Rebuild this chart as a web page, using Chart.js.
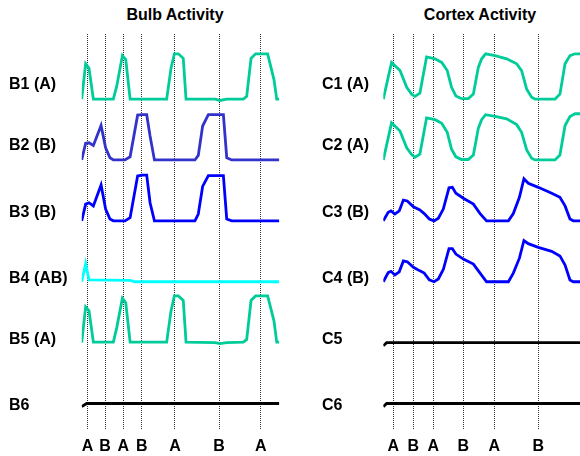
<!DOCTYPE html>
<html>
<head>
<meta charset="utf-8">
<script src="https://cdn.jsdelivr.net/npm/chart.js@4.4.0/dist/chart.umd.min.js"></script>
<style>
  body { margin: 0; background: #fff; }
  #wrap { position: relative; width: 580px; height: 456px; overflow: hidden; }
  canvas { position: absolute; top: 0; }
  #bulb { left: 0; }
  #cortex { left: 290px; }
  .title { position: absolute; top: 6px; width: 200px; text-align: center; line-height: 20px;
           font: bold 16px "Liberation Sans", Arial, sans-serif; color: #000; }
</style>
</head>
<body>
<div id="wrap">
  <div class="title" style="left: 75px;">Bulb Activity</div>
  <div class="title" style="left: 380px;">Cortex Activity</div>
  <canvas id="bulb" width="290" height="456"></canvas>
  <canvas id="cortex" width="290" height="456"></canvas>
</div>
<script>
// stimulus times (0-100) and their odor labels
var bulbEvents = [3.0, 11.8, 21.1, 30.4, 47.2, 69.5, 90.6];
var bulbEventLabels = ['A', 'B', 'A', 'B', 'A', 'B', 'A'];
var cortexEvents = [5.1, 15.3, 25.4, 40.7, 56.4, 78.8];
var cortexEventLabels = ['A', 'B', 'A', 'B', 'A', 'B'];

var bulbNames = ['B1 (A)', 'B2 (B)', 'B3 (B)', 'B4 (AB)', 'B5 (A)', 'B6'];
var cortexNames = ['C1 (A)', 'C2 (A)', 'C3 (B)', 'C4 (B)', 'C5', 'C6'];

// [time, activity] pairs, activity 0..1
var b1 = [[0,0],[2.0,0.78],[3.7,0.68],[5.9,0],[16.0,0],[17.7,0.28],[20.6,0.96],[22.3,0.87],[24.5,0],
          [43.0,0],[45.2,0.68],[46.9,1.0],[48.9,1.0],[51.4,0.9],[52.8,0],[67.5,0],[70.0,-0.03],[73.4,0],
          [81.8,0],[83.5,0.06],[85.7,0.9],[88.0,1.0],[94.1,1.0],[97.3,0.43],[98.7,0],[100,0]];
var b2 = [[0,0],[2.0,0.37],[3.7,0.38],[5.9,0.32],[9.8,0.76],[12.1,0.27],[14.3,0.05],[16.0,0],[21.9,0],
          [24.5,0.07],[28.3,0.99],[30.4,1.0],[32.9,1.0],[34.6,0.53],[36.8,0],[57.3,0],[59.0,0.1],
          [61.2,0.75],[64.1,1.0],[71.7,1.0],[73.4,0.05],[75.9,0],[100,0]];
var b3 = [[0,0],[2.0,0.37],[3.7,0.4],[5.9,0.33],[9.8,0.79],[12.1,0.26],[14.3,0.04],[16.0,0],[21.9,0],
          [24.5,0.07],[28.3,0.99],[30.4,1.01],[32.9,1.01],[34.6,0.4],[36.8,0],[57.3,0],[59.0,0.15],
          [61.2,0.76],[64.1,1.0],[71.7,1.0],[73.4,0.04],[75.9,0],[100,0]];
var b4 = [[0,0],[2.0,0.4],[3.7,0.04],[24.5,0.03],[27.0,0],[100,0]];
var b5 = [[0,0],[2.0,0.79],[3.7,0.7],[5.9,0.01],[16.0,0.01],[17.7,0.32],[20.6,0.98],[22.3,0.88],[24.5,0.01],
          [43.0,0.01],[45.2,0.7],[46.9,1.03],[48.9,1.03],[51.4,0.93],[52.8,0.01],[67.5,0],[70.0,-0.02],[73.4,0],
          [81.8,0.01],[83.5,0.07],[85.7,0.93],[88.0,1.03],[94.1,1.03],[97.3,0.48],[98.7,0.01],[100,0.01]];
var b6 = [[0,-0.07],[2.5,0],[100,0]];

var c1 = [[0,0],[4.2,0.81],[8.5,0.63],[11.9,0.26],[14.4,0.11],[16.1,0.06],[18.6,0.13],[22.0,0.93],
          [26.3,0.89],[29.7,0.81],[32.5,0.63],[34.7,0.26],[36.9,0.07],[39.8,0.01],[43.2,0.01],[45.8,0.11],
          [48.3,0.7],[50.0,0.89],[52.0,1.0],[56.8,0.96],[62.7,0.89],[67.8,0.78],[70.3,0.63],[72.9,0.22],
          [75.4,0.04],[77.1,0],[87.3,0],[89.8,0.11],[92.4,0.78],[94.9,0.96],[97.5,1.0],[100,1.0]];
var c2 = [[0,0],[4.2,0.82],[8.5,0.64],[11.9,0.27],[14.4,0.12],[16.1,0.06],[18.6,0.13],[22.0,0.93],
          [26.3,0.89],[29.7,0.81],[32.5,0.61],[34.7,0.24],[36.9,0.07],[39.8,0.01],[43.2,0.01],[45.8,0.11],
          [48.3,0.7],[50.0,0.89],[52.0,1.0],[56.8,0.96],[62.7,0.91],[67.8,0.78],[70.3,0.61],[72.9,0.22],
          [75.4,0.04],[77.1,0],[87.3,0],[89.8,0.11],[92.4,0.76],[94.9,0.96],[97.5,1.02],[100,1.02]];
var c3 = [[0,0],[2.5,0.19],[3.9,0.22],[5.9,0.15],[8.1,0.22],[10.2,0.46],[12.2,0.44],[15.3,0.31],
          [18.6,0.24],[20.8,0.16],[23.4,0.04],[25.8,0],[28.0,0.06],[30.5,0.26],[33.4,0.73],[35.1,0.74],
          [36.9,0.61],[40.7,0.5],[45.8,0.37],[49.2,0.16],[52.5,0],[63.6,0],[66.1,0.16],[69.2,0.52],
          [71.5,0.93],[73.7,0.83],[78.8,0.74],[85.6,0.61],[89.8,0.52],[92.4,0.33],[94.9,0.04],[96.6,0],[100,0]];
var c4 = [[0,0],[2.5,0.2],[3.9,0.23],[5.9,0.15],[8.1,0.22],[10.2,0.46],[12.2,0.44],[15.3,0.32],
          [18.6,0.24],[20.8,0.19],[23.4,0.04],[25.8,0],[28.0,0.06],[30.5,0.27],[33.4,0.73],[35.1,0.73],
          [36.9,0.61],[40.7,0.5],[45.8,0.39],[49.2,0.19],[52.5,0],[63.6,0],[66.1,0.19],[69.2,0.52],
          [71.5,0.91],[73.7,0.84],[78.8,0.76],[85.6,0.67],[89.8,0.57],[92.4,0.37],[94.9,0.04],[96.6,0],[100,0]];
var c5 = [[0,-0.07],[1.7,0],[100,0]];
var c6 = [[0,-0.07],[1.7,0],[100,0]];

var bulbColors = ['#00cc99', '#3333cc', '#0000ff', '#00ffff', '#00cc99', '#000000'];
var cortexColors = ['#00cc99', '#00cc99', '#0000ff', '#0000ff', '#000000', '#000000'];

// layout: traces stacked top to bottom, one shared y scale
var ROW_GAP = 1.344;
var LABEL_LIFT = [0.32, 0.31, 0.19, 0.075, 0.057, -0.04];
var FONT = { family: '"Liberation Sans", Arial, sans-serif', size: 16, weight: 'bold' };

function rowOffset(i) {
    return (5 - i) * ROW_GAP;
}

function drawPanel(id, traces, names, colors, events, eventLabels, padLeft, padRight, axisWidth) {
    var datasets = traces.map(function (tr, i) {
        return {
            data: tr.map(function (p) { return { x: p[0], y: p[1] + rowOffset(i) }; }),
            borderColor: colors[i],
            borderWidth: 2.8,
            pointRadius: 0,
            tension: 0,
            fill: false
        };
    });

    new Chart(document.getElementById(id), {
        type: 'line',
        data: { datasets: datasets },
        options: {
            responsive: false,
            animation: false,
            layout: { padding: { left: padLeft, right: padRight, top: 34, bottom: 0 } },
            plugins: { legend: { display: false }, tooltip: { enabled: false } },
            scales: {
                x: {
                    type: 'linear',
                    min: 0,
                    max: 100,
                    afterBuildTicks: function (scale) {
                        scale.ticks = events.map(function (v) { return { value: v }; });
                    },
                    afterFit: function (scale) { scale.height = 27; },
                    ticks: {
                        autoSkip: false,
                        maxRotation: 0,
                        padding: 8,
                        color: '#000',
                        font: FONT,
                        callback: function (value, index) { return eventLabels[index]; }
                    },
                    grid: { color: '#333', lineWidth: 1, drawTicks: false },
                    border: { display: false, dash: [1, 1] }
                },
                y: {
                    min: -0.563,
                    max: 8.157,
                    afterBuildTicks: function (scale) {
                        scale.ticks = names.map(function (n, i) { return { value: rowOffset(i) + LABEL_LIFT[i] }; });
                    },
                    afterFit: function (scale) { scale.width = axisWidth; },
                    ticks: {
                        autoSkip: false,
                        crossAlign: 'far',
                        color: '#000',
                        font: FONT,
                        callback: function (value, index) { return names[index]; }
                    },
                    grid: { display: false },
                    border: { display: false }
                }
            }
        }
    });
}

drawPanel('bulb', [b1, b2, b3, b4, b5, b6], bulbNames, bulbColors, bulbEvents, bulbEventLabels, 9, 10.7, 72.7);
drawPanel('cortex', [c1, c2, c3, c4, c5, c6], cortexNames, cortexColors, cortexEvents, cortexEventLabels, 32, 0, 61.3);
</script>
</body>
</html>
